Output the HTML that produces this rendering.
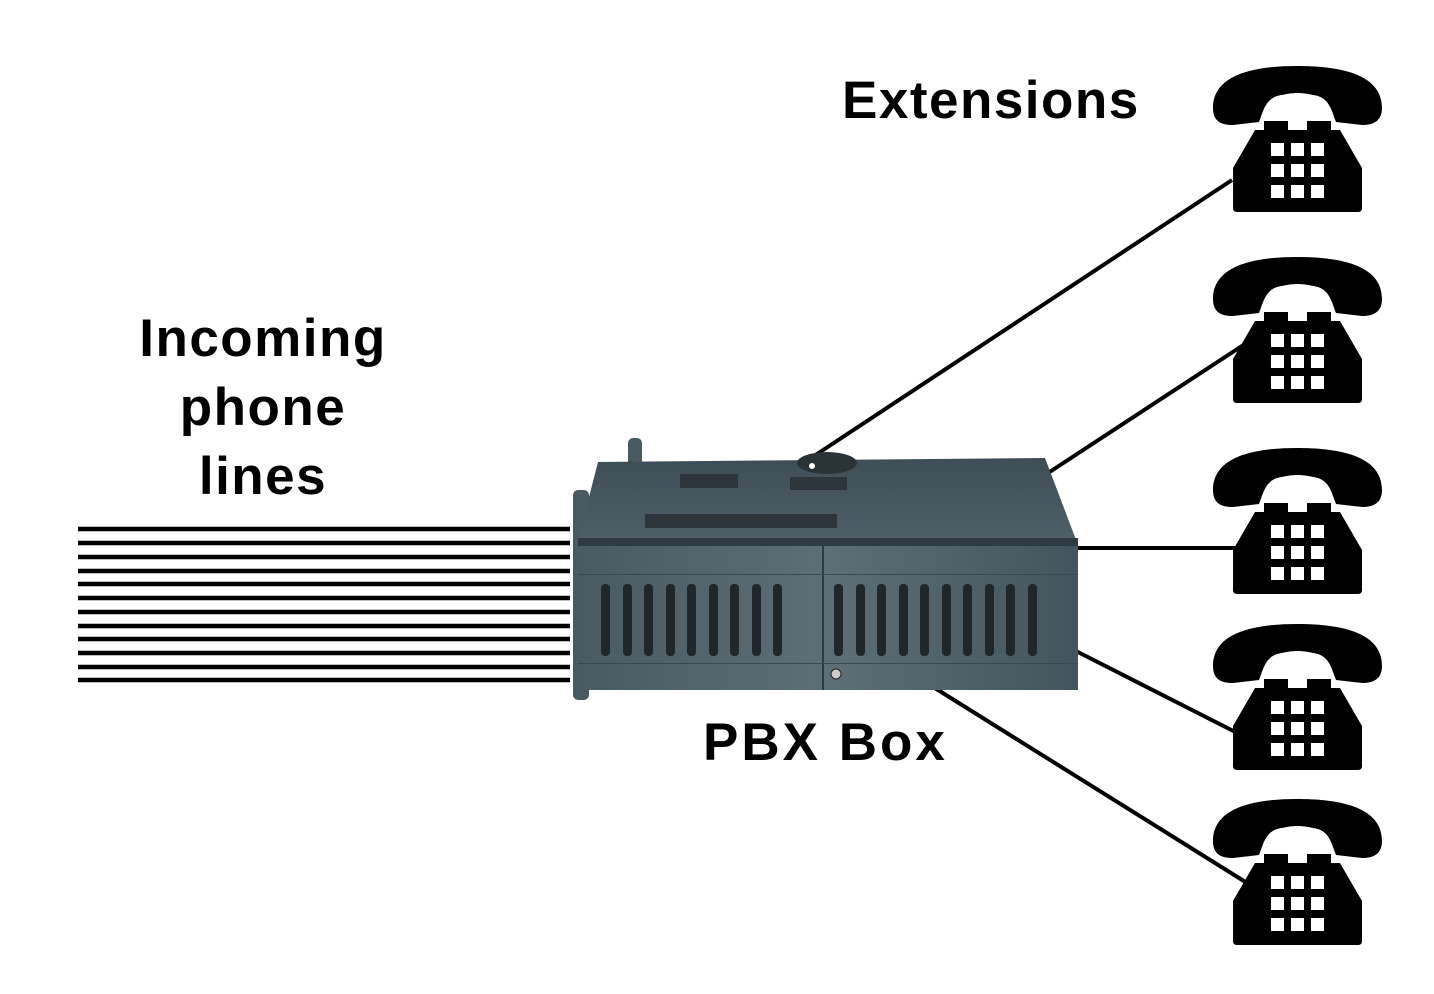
<!DOCTYPE html>
<html><head><style>
html,body{margin:0;padding:0;background:#fff;}
body{width:1434px;height:994px;overflow:hidden;position:relative;font-family:"Liberation Sans",sans-serif;}
.t{position:absolute;font-weight:bold;color:#000;white-space:nowrap;letter-spacing:1.5px;}
</style></head><body>
<svg width="1434" height="994" style="position:absolute;left:0;top:0">
<defs>
<linearGradient id="fr" x1="0" y1="0" x2="1" y2="0">
<stop offset="0" stop-color="#4a5a63"/><stop offset="0.5" stop-color="#5e6e76"/><stop offset="1" stop-color="#44545d"/>
</linearGradient>
<linearGradient id="tp" x1="0" y1="0" x2="0" y2="1">
<stop offset="0" stop-color="#3e4d56"/><stop offset="1" stop-color="#50606a"/>
</linearGradient>
<g id="ph">
<path d="M1213,108 C1213,72 1260,66 1297,66 C1335,66 1382,72 1382,108 C1382,122 1372,125 1362,125 L1336,122 C1332,112 1330,100 1318,96 C1300,92 1295,92 1277,96 C1265,100 1263,112 1259,122 L1233,125 C1222,125 1213,122 1213,108 Z" fill="#000"/>
<path d="M1264,121 H1288 V130 H1307 V121 H1331 V130 H1340 L1362,168 V208 Q1362,212 1358,212 H1237 Q1233,212 1233,208 V168 L1255,130 H1264 Z" fill="#000"/>
<g fill="#fff">
<rect x="1271" y="143" width="13" height="13"/><rect x="1291" y="143" width="13" height="13"/><rect x="1311" y="143" width="13" height="13"/>
<rect x="1271" y="164" width="13" height="13"/><rect x="1291" y="164" width="13" height="13"/><rect x="1311" y="164" width="13" height="13"/>
<rect x="1271" y="185" width="13" height="13"/><rect x="1291" y="185" width="13" height="13"/><rect x="1311" y="185" width="13" height="13"/>
</g>
</g>
</defs>
<g stroke="#000" stroke-width="4.5">
<line x1="78" y1="529" x2="570" y2="529"/><line x1="78" y1="543" x2="570" y2="543"/>
<line x1="78" y1="557" x2="570" y2="557"/><line x1="78" y1="571" x2="570" y2="571"/>
<line x1="78" y1="584" x2="570" y2="584"/><line x1="78" y1="598" x2="570" y2="598"/>
<line x1="78" y1="612" x2="570" y2="612"/><line x1="78" y1="626" x2="570" y2="626"/>
<line x1="78" y1="639" x2="570" y2="639"/><line x1="78" y1="653" x2="570" y2="653"/>
<line x1="78" y1="667" x2="570" y2="667"/><line x1="78" y1="680" x2="570" y2="680"/>
</g>
<g stroke="#000" stroke-width="4">
<line x1="805" y1="462" x2="1232" y2="180"/>
<line x1="1045" y1="475" x2="1248" y2="342"/>
<line x1="1075" y1="548" x2="1245" y2="548"/>
<line x1="1070" y1="648" x2="1255" y2="742"/>
<line x1="930" y1="685" x2="1255" y2="888"/>
</g>
<use href="#ph"/>
<use href="#ph" transform="translate(0,191)"/>
<use href="#ph" transform="translate(0,382)"/>
<use href="#ph" transform="translate(0,558)"/>
<use href="#ph" transform="translate(0,733)"/>
<!-- PBX box -->
<rect x="628" y="438" width="14" height="40" rx="5" fill="#4a5a63"/>
<rect x="573" y="490" width="16" height="210" rx="5" fill="#4a5a63"/>
<path d="M598,462 L1045,458 L1078,545 L578,540 Z" fill="url(#tp)"/>
<rect x="680" y="474" width="58" height="14" fill="#2c363c"/>
<rect x="790" y="477" width="57" height="13" fill="#2c363c"/>
<rect x="645" y="514" width="192" height="14" fill="#2c363c"/>
<ellipse cx="827" cy="463" rx="30" ry="11" fill="#2a3338"/>
<circle cx="812" cy="466" r="3" fill="#fff"/>
<rect x="578" y="538" width="500" height="152" fill="url(#fr)"/>
<rect x="578" y="538" width="500" height="8" fill="#2f3b42"/>
<rect x="822" y="545" width="2" height="145" fill="#2f3b42"/>
<rect x="578" y="574" width="500" height="1" fill="#3a4850"/>
<rect x="578" y="663" width="500" height="1" fill="#3a4850"/>
<g fill="#1f272b">
<rect x="601" y="584" width="9" height="72" rx="4"/><rect x="623" y="584" width="9" height="72" rx="4"/>
<rect x="644" y="584" width="9" height="72" rx="4"/><rect x="666" y="584" width="9" height="72" rx="4"/>
<rect x="687" y="584" width="9" height="72" rx="4"/><rect x="709" y="584" width="9" height="72" rx="4"/>
<rect x="730" y="584" width="9" height="72" rx="4"/><rect x="752" y="584" width="9" height="72" rx="4"/>
<rect x="773" y="584" width="9" height="72" rx="4"/>
<rect x="834" y="584" width="9" height="72" rx="4"/><rect x="856" y="584" width="9" height="72" rx="4"/>
<rect x="877" y="584" width="9" height="72" rx="4"/><rect x="899" y="584" width="9" height="72" rx="4"/>
<rect x="920" y="584" width="9" height="72" rx="4"/><rect x="942" y="584" width="9" height="72" rx="4"/>
<rect x="963" y="584" width="9" height="72" rx="4"/><rect x="985" y="584" width="9" height="72" rx="4"/>
<rect x="1006" y="584" width="9" height="72" rx="4"/><rect x="1028" y="584" width="9" height="72" rx="4"/>
</g>
<circle cx="836" cy="674" r="5" fill="#ccc" stroke="#222"/>
</svg>
<div class="t" style="left:842px;top:70px;font-size:53px;">Extensions</div>
<div class="t" style="left:113px;top:304px;width:300px;text-align:center;font-size:53px;line-height:69px;white-space:normal;">Incoming<br>phone<br>lines</div>
<div class="t" style="left:703px;top:712px;font-size:53px;letter-spacing:3px;">PBX Box</div>
</body></html>
